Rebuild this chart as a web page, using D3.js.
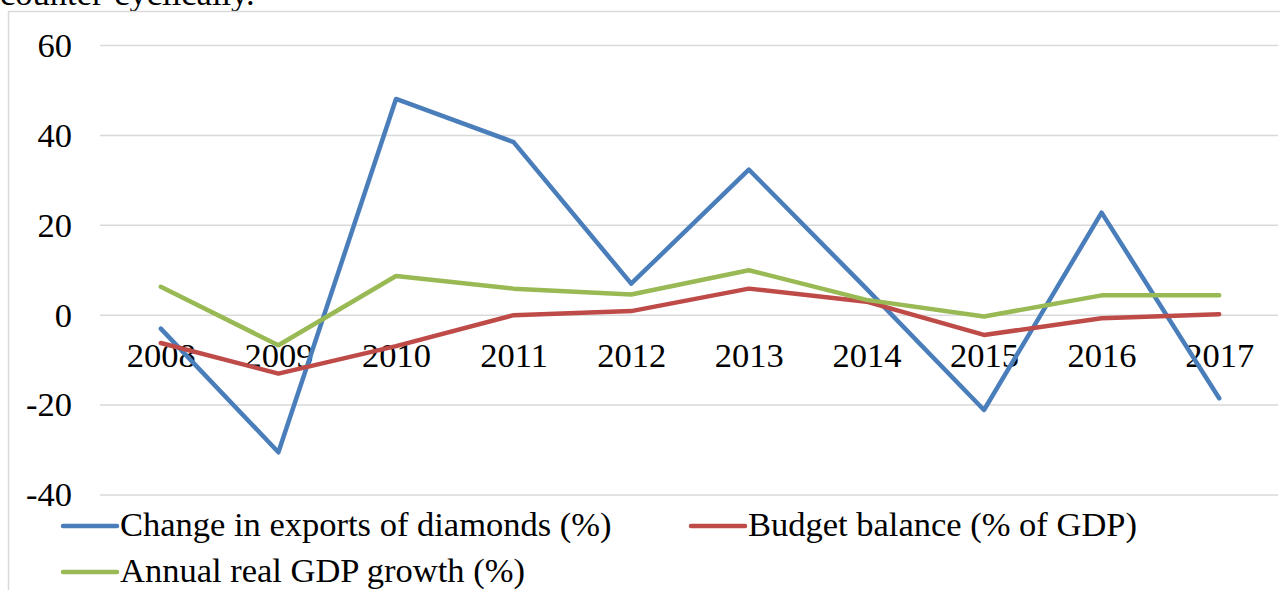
<!DOCTYPE html>
<html>
<head>
<meta charset="utf-8">
<script src="https://cdn.jsdelivr.net/npm/d3@7"></script>
<style>
  body { margin: 0; background: #fff; }
  svg text { font-family: 'Liberation Serif', serif; }
</style>
</head>
<body>
<div id="chart"></div>
<script>
const years = ['2008', '2009', '2010', '2011', '2012', '2013', '2014', '2015', '2016', '2017'];
const diamondExports = [-3.1, -30.6, 48.0, 38.4, 6.9, 32.3, 5.8, -21.2, 22.7, -18.6];
const budgetBalance = [-6.3, -13.1, -7.0, -0.1, 0.8, 5.8, 2.9, -4.5, -0.8, 0.1];
const gdpGrowth = [6.2, -6.8, 8.6, 5.8, 4.5, 9.9, 3.3, -0.4, 4.3, 4.3];
const yTicks = [60, 40, 20, 0, -20, -40];

const series = [
  { name: 'Change in exports of diamonds (%)', values: diamondExports, color: '#4a7ebb' },
  { name: 'Budget balance (% of GDP)', values: budgetBalance, color: '#be4b48' },
  { name: 'Annual real GDP growth (%)', values: gdpGrowth, color: '#98b954' },
];

const width = 1280;
const height = 590;
const plot = { left: 102, right: 1278, top: 45, bottom: 494.5 };
const fontSize = 34.5;

const svg = d3.select('#chart').append('svg')
  .attr('width', width)
  .attr('height', height);

// text above the chart, cut off by the top edge
svg.append('text')
  .attr('x', 0)
  .attr('y', 5)
  .attr('font-size', fontSize)
  .attr('fill', '#000')
  .text('counter-cyclically.');

// chart frame
svg.append('rect')
  .attr('x', 8.5)
  .attr('y', 11.5)
  .attr('width', 1300)
  .attr('height', 620)
  .attr('fill', '#fff')
  .attr('stroke', '#d9d9d9')
  .attr('stroke-width', 1.5);

const x = d3.scalePoint()
  .domain(years)
  .range([plot.left, plot.right])
  .padding(0.5);

const y = d3.scaleLinear()
  .domain([-40, 60])
  .range([plot.bottom, plot.top]);

const yAxis = svg.append('g')
  .attr('transform', `translate(${plot.left - 2},0)`)
  .call(d3.axisLeft(y)
    .tickValues(yTicks)
    .tickSizeInner(-(plot.right - plot.left + 2))
    .tickSizeOuter(0)
    .tickPadding(28)
    .tickFormat(d => String(d)));

yAxis.select('.domain').remove();
yAxis.attr('font-family', null).attr('font-size', null);
yAxis.selectAll('.tick line')
  .attr('stroke', '#d9d9d9')
  .attr('stroke-width', 1.5);
yAxis.selectAll('.tick text')
  .attr('font-size', fontSize)
  .attr('fill', '#000')
  .attr('dy', '0.33em');

// category labels sit just below the zero line
const xAxis = svg.append('g')
  .attr('transform', `translate(0,${y(0)})`)
  .call(d3.axisBottom(x).tickSize(0));

xAxis.select('.domain').remove();
xAxis.attr('font-family', null).attr('font-size', null);
xAxis.selectAll('.tick text')
  .attr('font-size', fontSize)
  .attr('fill', '#000')
  .attr('y', 52)
  .attr('dy', 0);

const line = d3.line()
  .x((d, i) => x(years[i]))
  .y(d => y(d));

svg.selectAll('.series')
  .data(series)
  .enter()
  .append('path')
  .attr('class', 'series')
  .attr('fill', 'none')
  .attr('stroke', d => d.color)
  .attr('stroke-width', 4.5)
  .attr('stroke-linejoin', 'round')
  .attr('stroke-linecap', 'round')
  .attr('d', d => line(d.values));

// legend
const legendPos = [
  { x: 63, y: 526 },
  { x: 691, y: 526 },
  { x: 63, y: 572 },
];

const legend = svg.selectAll('.legend')
  .data(series)
  .enter()
  .append('g')
  .attr('class', 'legend')
  .attr('transform', (d, i) => `translate(${legendPos[i].x},${legendPos[i].y})`);

legend.append('line')
  .attr('x1', 0)
  .attr('x2', 54)
  .attr('stroke', d => d.color)
  .attr('stroke-width', 4.5)
  .attr('stroke-linecap', 'round');

legend.append('text')
  .attr('x', 57)
  .attr('y', 10)
  .attr('font-size', fontSize)
  .attr('fill', '#000')
  .text(d => d.name);
</script>
</body>
</html>
